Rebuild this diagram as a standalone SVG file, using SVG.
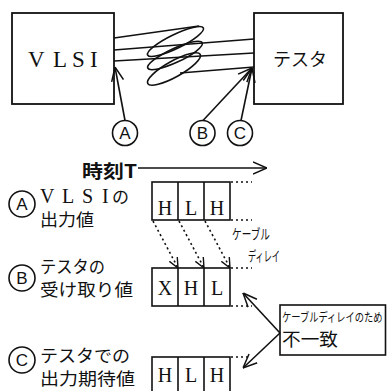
<svg xmlns="http://www.w3.org/2000/svg" width="387" height="391" viewBox="0 0 387 391">
<defs>
<style>
.ln{fill:none;stroke:#111;stroke-width:1.6}
.box{fill:#fff;stroke:#111;stroke-width:1.8}
.cell{fill:none;stroke:#111;stroke-width:1.6}
.dot{fill:none;stroke:#111;stroke-width:1.6;stroke-dasharray:2 3}
.jp{font-family:"Noto Sans CJK JP",sans-serif;fill:#111}
.lat{font-family:"Liberation Serif",serif;fill:#111}
.circ{fill:#fff;stroke:#111;stroke-width:1.6}
.cl{font-family:"Liberation Sans",sans-serif;font-size:17px;text-anchor:middle;fill:#111}
.v{font-family:"Liberation Serif",serif;font-size:20px;text-anchor:middle;fill:#111}
</style>
<marker id="ah" viewBox="0 0 14 14" refX="14" refY="7" markerWidth="14" markerHeight="14" markerUnits="userSpaceOnUse" orient="auto"><path d="M0,1 L14,7 L0,13" fill="none" stroke="#111" stroke-width="1.5"/></marker>
<marker id="ahs" viewBox="0 0 10 10" refX="10" refY="5" markerWidth="10" markerHeight="10" markerUnits="userSpaceOnUse" orient="auto"><path d="M0,0.5 L10,5 L0,9.5" fill="none" stroke="#111" stroke-width="1.4"/></marker>
</defs>
<rect width="387" height="391" fill="#fff"/>

<g id="node-vlsi">
<rect class="box" x="12" y="13" width="102" height="91"/>
<text class="lat" font-size="23" x="28 53 72 90" y="67">VLSI</text>
</g>

<g id="node-tester">
<rect class="box" x="254" y="13" width="89" height="91"/>
<text class="jp" font-size="18" x="273" y="66" textLength="54" lengthAdjust="spacingAndGlyphs">テスタ</text>
</g>

<g id="cable" class="ln">
<path d="M114,38 L199,26"/>
<path d="M114,50 L254,39"/>
<path d="M114,61 L254,53"/>
<path d="M180,73 L254,67"/>
<ellipse cx="175.5" cy="41.5" rx="31" ry="7" transform="rotate(-26 175.5 41.5)"/>
<ellipse cx="175" cy="55.5" rx="30" ry="7" transform="rotate(-25 175 55.5)"/>
<ellipse cx="174" cy="69" rx="30" ry="8" transform="rotate(-29 174 69)"/>
</g>

<g id="connectors" class="ln">
<path d="M125,120.5 L115,67" marker-end="url(#ah)"/>
<path d="M203,120.5 L252,68" marker-end="url(#ah)"/>
<path d="M241,120.5 L252,68" marker-end="url(#ah)"/>
<path d="M138,168 L267,168" marker-end="url(#ah)"/>
<path class="dot" d="M153,221 L178,268" marker-end="url(#ahs)"/>
<path class="dot" d="M179,221 L204,268" marker-end="url(#ahs)"/>
<path class="dot" d="M205,221 L230,268" marker-end="url(#ahs)"/>
<path d="M280,333 L243,293" marker-end="url(#ah)"/>
<path d="M280,333 L243,368" marker-end="url(#ah)"/>
</g>

<g id="probe-a"><circle class="circ" cx="125" cy="133" r="12.5"/><text class="cl" x="125" y="139">A</text></g>
<g id="probe-b"><circle class="circ" cx="202.5" cy="133" r="12.5"/><text class="cl" x="202.5" y="139">B</text></g>
<g id="probe-c"><circle class="circ" cx="240" cy="133" r="12.5"/><text class="cl" x="240" y="139">C</text></g>

<g id="time-axis">
<text class="jp" font-size="18" font-weight="bold" x="82" y="178" textLength="55" lengthAdjust="spacingAndGlyphs">時刻T</text>
</g>

<g id="row-a">
<circle class="circ" cx="22" cy="204" r="13"/><text class="cl" x="22" y="210">A</text>
<text class="lat" font-size="20" x="40 62 82 102" y="203">VLSI</text>
<text class="jp" font-size="17" x="112" y="203">の</text>
<text class="jp" font-size="17" x="40" y="226" textLength="54" lengthAdjust="spacingAndGlyphs">出力値</text>
<rect class="cell" x="152" y="182" width="78" height="38"/>
<path class="cell" d="M178,182 V220 M204,182 V220"/>
<text class="v" x="165" y="215">H</text><text class="v" x="191" y="215">L</text><text class="v" x="217" y="215">H</text>
<path class="dot" d="M231,182 H252 M231,220 H252"/>
</g>

<g id="cable-delay-label">
<text class="jp" font-size="14" x="232" y="239" textLength="38" lengthAdjust="spacingAndGlyphs">ケーブル</text>
<text class="jp" font-size="14" x="248" y="261" textLength="32" lengthAdjust="spacingAndGlyphs">ディレイ</text>
</g>

<g id="row-b">
<circle class="circ" cx="22" cy="278" r="13"/><text class="cl" x="22" y="284">B</text>
<text class="jp" font-size="17" x="40" y="273" textLength="65" lengthAdjust="spacingAndGlyphs">テスタの</text>
<text class="jp" font-size="17" x="40" y="296" textLength="93" lengthAdjust="spacingAndGlyphs">受け取り値</text>
<rect class="cell" x="152" y="268" width="78" height="38"/>
<path class="cell" d="M178,268 V306 M204,268 V306"/>
<text class="v" x="165" y="295">X</text><text class="v" x="191" y="295">H</text><text class="v" x="217" y="295">L</text>
<path class="dot" d="M231,268 H252 M231,306 H252"/>
</g>

<g id="row-c">
<circle class="circ" cx="22" cy="360" r="13"/><text class="cl" x="22" y="366">C</text>
<text class="jp" font-size="17" x="40" y="362" textLength="90" lengthAdjust="spacingAndGlyphs">テスタでの</text>
<text class="jp" font-size="17" x="40" y="385" textLength="95" lengthAdjust="spacingAndGlyphs">出力期待値</text>
<rect class="cell" x="152" y="357" width="78" height="40"/>
<path class="cell" d="M178,357 V397 M204,357 V397"/>
<text class="v" x="165" y="382">H</text><text class="v" x="191" y="382">L</text><text class="v" x="217" y="382">H</text>
<path class="dot" d="M231,357 H250"/>
</g>

<g id="note">
<rect class="cell" x="280" y="305" width="105.5" height="50"/>
<text class="jp" font-size="12.5" transform="translate(282 322) scale(0.74 1)">ケーブルディレイのため</text>
<text class="jp" font-size="18" x="282" y="346" textLength="56" lengthAdjust="spacingAndGlyphs">不一致</text>
</g>
</svg>
